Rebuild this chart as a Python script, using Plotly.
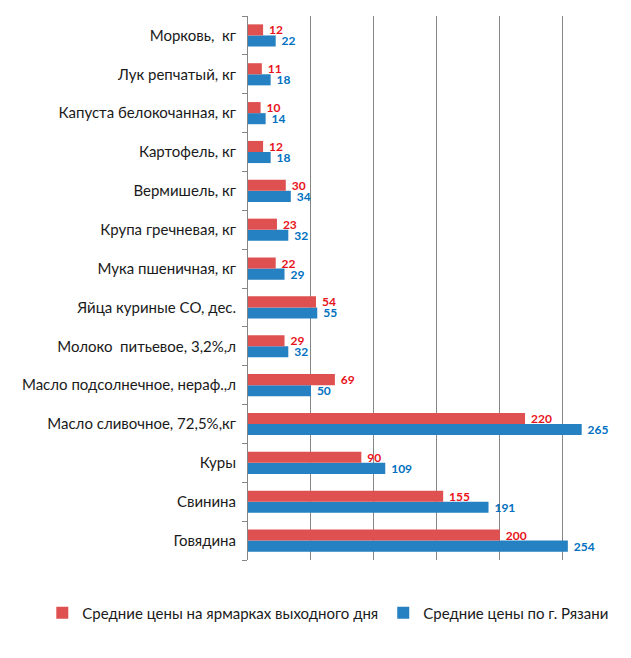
import plotly.graph_objects as go

# categories from bottom to top (plotly draws the first one at the bottom)
products = [
    "Говядина",
    "Свинина",
    "Куры",
    "Масло сливочное, 72,5%,кг",
    "Масло подсолнечное, нераф.,л",
    "Молоко  питьевое, 3,2%,л",
    "Яйца куриные СО, дес.",
    "Мука пшеничная, кг",
    "Крупа гречневая, кг",
    "Вермишель, кг",
    "Картофель, кг",
    "Капуста белокочанная, кг",
    "Лук репчатый, кг",
    "Морковь,  кг",
]
fair_prices = [200, 155, 90, 220, 69, 29, 54, 22, 23, 30, 12, 10, 11, 12]
city_prices = [254, 191, 109, 265, 50, 32, 55, 29, 32, 34, 18, 14, 18, 22]

fnt = "Lato"

fig = go.Figure()

# blue first so it sits under the red one in each group
fig.add_trace(go.Bar(
    y=products, x=city_prices, orientation="h",
    name="Средние цены по г. Рязани",
    marker=dict(color="#2681C2", line_width=0),
    text=city_prices, texttemplate="\u00a0%{text}",
    textposition="outside", cliponaxis=False, constraintext="none",
    textfont=dict(family=fnt, size=12, color="#0070C0", weight="bold"),
    legendrank=2,
))
fig.add_trace(go.Bar(
    y=products, x=fair_prices, orientation="h",
    name="Средние цены на ярмарках выходного дня",
    marker=dict(color="#DF5050", line_width=0),
    text=fair_prices, texttemplate="\u00a0%{text}",
    textposition="outside", cliponaxis=False, constraintext="none",
    textfont=dict(family=fnt, size=12, color="#E8131B", weight="bold"),
    legendrank=1,
))

# the page body adds 8px, margins below account for that
fig.update_layout(
    width=631, height=658,
    margin=dict(l=240, r=17, t=8, b=106, autoexpand=False),
    barmode="group", bargap=0.43, bargroupgap=0,
    plot_bgcolor="white", paper_bgcolor="white",
    font=dict(family=fnt, size=15, color="#1a1a1a"),
    showlegend=True,
    legend=dict(orientation="h", x=-0.55, xanchor="left",
                y=-0.0974, yanchor="middle",
                font=dict(family=fnt, size=15, color="#1a1a1a"),
                itemwidth=30, traceorder="normal"),
)
fig.update_xaxes(range=[0, 297], dtick=50, showticklabels=False,
                 showgrid=True, gridcolor="#868686", gridwidth=1,
                 zeroline=False, showline=False)
fig.update_yaxes(type="category", showline=True, linecolor="#868686", linewidth=1,
                 ticks="outside", tickson="boundaries", ticklen=5, tickcolor="#868686",
                 ticklabelstandoff=8, showgrid=False)

fig.write_html("out.html")
